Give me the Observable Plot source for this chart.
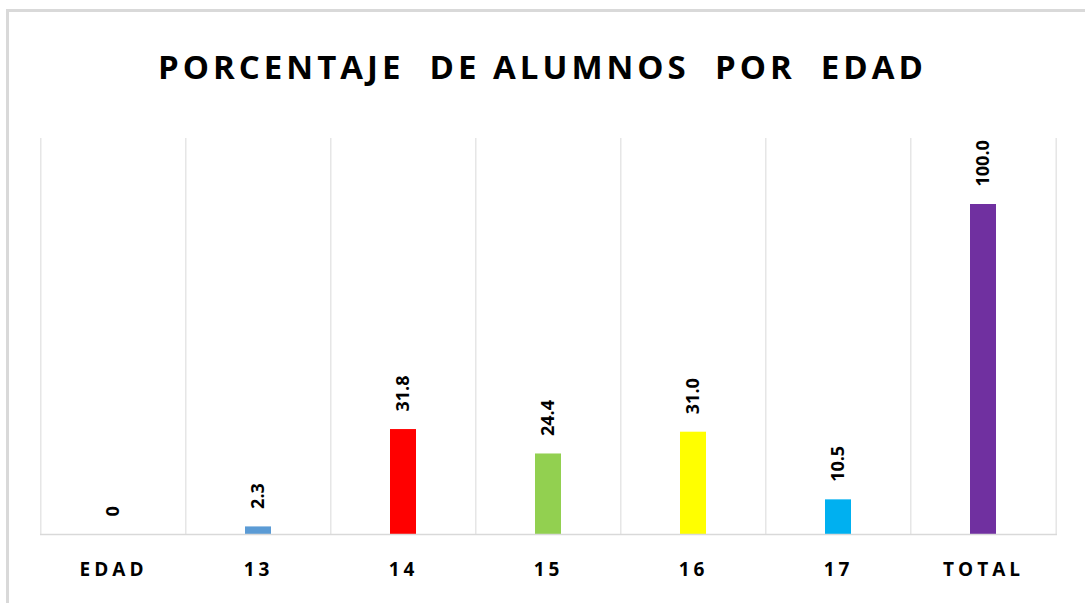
<!DOCTYPE html>
<html>
<head>
<meta charset="utf-8">
<script src="https://cdn.jsdelivr.net/npm/d3@7"></script>
<script src="https://cdn.jsdelivr.net/npm/@observablehq/plot@0.6"></script>
<style>
  html, body { margin: 0; padding: 0; background: #fff; }
  #wrap { position: relative; width: 1085px; height: 603px; overflow: hidden; font-family: "Open Sans", sans-serif; }
  #frame { position: absolute; left: 6px; top: 9px; width: 1100px; height: 620px; border-left: 3px solid #d9d9d9; border-top: 3px solid #d9d9d9; box-sizing: border-box; }
  #title { position: absolute; left: 0; top: 42px; width: 1085px; text-align: center; margin: 0; font-size: 33px; font-weight: 700; letter-spacing: 4px; white-space: pre; color: #000; line-height: 50px; }
  #chart { position: absolute; left: 0; top: 110px; }
  g[aria-label="x-axis tick label"] text { letter-spacing: 4px; }
</style>
</head>
<body>
<div id="wrap">
  <div id="frame"></div>
  <h2 id="title">PORCENTAJE  DE ALUMNOS  POR  EDAD</h2>
  <div id="chart"></div>
</div>
<script>
const categories = ["EDAD", "13", "14", "15", "16", "17", "TOTAL"];
const values = [0, 2.3, 31.8, 24.4, 31.0, 10.5, 100.0];
const labels = ["0", "2.3", "31.8", "24.4", "31.0", "10.5", "100.0"];
const colors = ["#ffffff", "#5b9bd5", "#ff0000", "#92d050", "#ffff00", "#00b0f0", "#7030a0"];

const data = categories.map((c, i) => ({cat: c, value: values[i], label: labels[i], color: colors[i]}));

const width = 1085, height = 493;
const marginLeft = 40, marginRight = 28;
const step = (width - marginLeft - marginRight) / categories.length;

const chart = Plot.plot({
  width, height,
  marginTop: 28, marginBottom: 69, marginLeft, marginRight,
  style: {fontFamily: "'Open Sans', sans-serif", background: "transparent", color: "#000"},
  x: {domain: categories, paddingInner: 0.82, paddingOuter: 0.41, label: null},
  y: {domain: [0, 120], axis: null},
  marks: [
    Plot.ruleX(categories, {x: d => d, y1: 0, y2: 120, dx: -step / 2, stroke: "#d9d9d9", strokeWidth: 1}),
    Plot.ruleX([categories[categories.length - 1]], {x: d => d, y1: 0, y2: 120, dx: step / 2, stroke: "#d9d9d9", strokeWidth: 1}),
    Plot.barY(data.filter(d => d.value > 0), {x: "cat", y: "value", fill: "color"}),
    Plot.ruleY([0], {stroke: "#d9d9d9", strokeWidth: 1.5}),
    Plot.text(data, {x: "cat", y: "value", text: "label", rotate: -90, textAnchor: "start", lineAnchor: "middle", dy: -18, fontSize: 18, fontWeight: 700, fill: "#000"}),
    Plot.axisX({tickSize: 0, tickPadding: 28, fontSize: 19, fontWeight: 700, label: null})
  ]
});
document.getElementById("chart").appendChild(chart);
</script>
</body>
</html>
